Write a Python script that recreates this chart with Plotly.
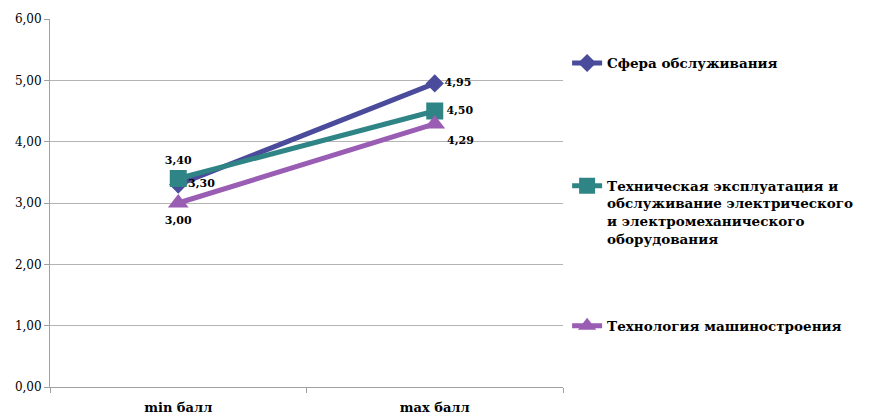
import plotly.graph_objects as go

categories = ["min балл", "max балл"]
series_names = [
    "Сфера обслуживания<br> <br> ",
    "Техническая эксплуатация и<br>обслуживание электрического<br>и электромеханического<br>оборудования",
    "Технология машиностроения",
]
s1 = [3.30, 4.95]
s2 = [3.40, 4.50]
s3 = [3.00, 4.29]
y_ticks = [0, 1, 2, 3, 4, 5, 6]

colors = ["#4B4B9C", "#2F8585", "#9A5DB4"]
symbols = ["diamond", "square", "triangle-up"]
sizes = [14, 17, 18]
positions = [["middle right", "middle right"], ["top center", "middle right"], ["bottom center", "bottom right"]]

FONT = "DejaVu Serif, serif"
fig = go.Figure()
for i, (name, vals) in enumerate(zip(series_names, [s1, s2, s3])):
    fig.add_trace(go.Scatter(
        x=categories, y=vals, name="<b>" + name.replace("<br>", "</b><br><b>") + "</b>",
        mode="lines+markers+text",
        line=dict(color=colors[i], width=5),
        marker=dict(symbol=symbols[i], size=sizes[i], color=colors[i]),
        texttemplate="<b>%{y:.2f}</b>", textposition=positions[i],
        textfont=dict(family=FONT, size=11, color="#000"),
        legendgroup=str(i),
    ))

fig.update_layout(
    width=871, height=418,
    margin=dict(l=50, r=308, t=19, b=31, autoexpand=False),
    paper_bgcolor="white", plot_bgcolor="white",
    separators=", ",
    showlegend=True,
    legend=dict(x=1.008, y=0.922, xanchor="left", yanchor="top",
                font=dict(family=FONT, size=13.5, color="#000"),
                tracegroupgap=67, valign="top", itemwidth=30,
                bgcolor="rgba(0,0,0,0)"),
    xaxis=dict(type="category", range=[-0.5, 1.5], showgrid=False, showline=True, linecolor="#A0A0A0",
               ticks="outside", tickson="boundaries", ticklen=5, tickcolor="#A0A0A0",
               ticklabelstandoff=8, automargin=False,
               tickfont=dict(family=FONT, size=13, color="#000"),
               tickprefix="<b>", ticksuffix="</b>"),
    yaxis=dict(range=[0, 6], tickvals=y_ticks, tickformat=".2f", showgrid=True,
               gridcolor="#B4B4B4", showline=True, linecolor="#A0A0A0",
               ticks="outside", ticklen=5, tickcolor="#A0A0A0", zeroline=False,
               automargin=False,
               tickfont=dict(family=FONT, size=12, color="#000"),
               tickprefix="<b>", ticksuffix="</b>"),
)
fig.write_html("out.html")
